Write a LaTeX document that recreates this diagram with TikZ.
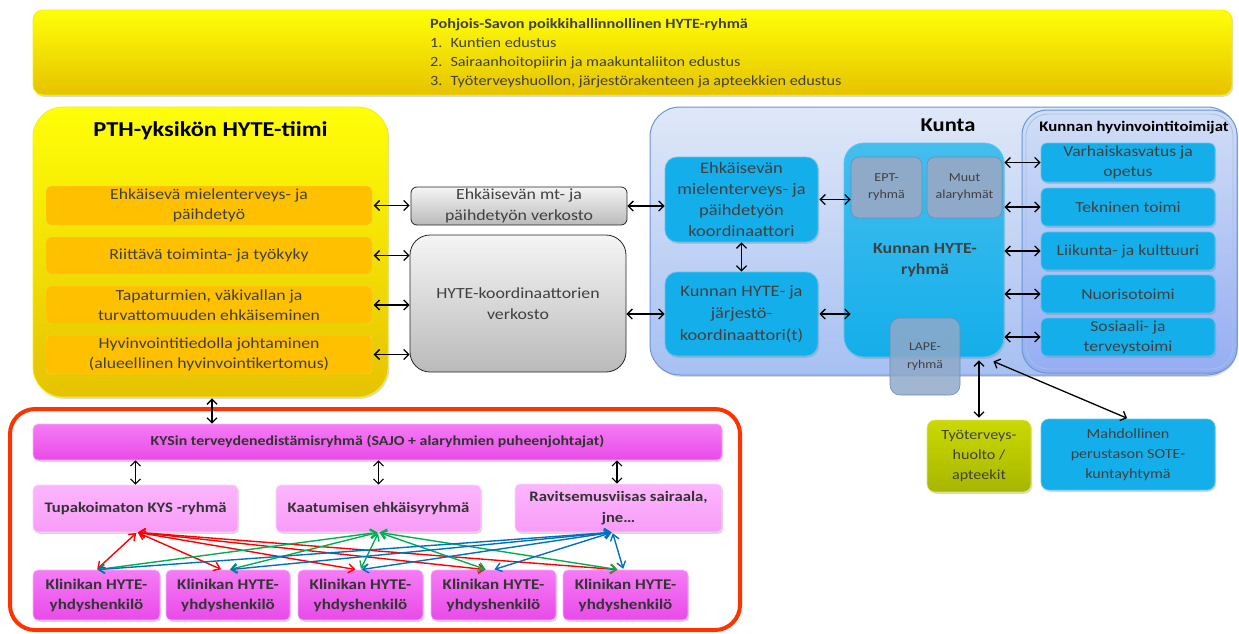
\documentclass[tikz,border=0pt]{standalone}
\usepackage{fontspec}
\setmainfont{Carlito}[FakeStretch=1.15]
\usetikzlibrary{arrows.meta,shadows}
\definecolor{txt}{HTML}{404040}
\definecolor{ytop}{HTML}{FFFF08}
\definecolor{ybot}{HTML}{E6C200}
\definecolor{orangebox}{HTML}{FFC000}
\definecolor{blueb}{HTML}{14AEEA}
\definecolor{bluebd}{HTML}{5CC6F0}
\definecolor{kuntatop}{HTML}{DFE8F8}
\definecolor{kuntabot}{HTML}{A6C0F2}
\definecolor{kuntadraw}{HTML}{6B97D6}
\definecolor{subgray}{HTML}{8FA9C9}
\definecolor{subgrayd}{HTML}{6D8DB6}
\definecolor{olivetop}{HTML}{CAD900}
\definecolor{olivebot}{HTML}{A7B600}
\definecolor{magtop}{HTML}{F57CF5}
\definecolor{magbot}{HTML}{E94AE9}
\definecolor{pinktop}{HTML}{FCB6FC}
\definecolor{pinkbot}{HTML}{F89CF8}
\definecolor{redframe}{HTML}{FF3300}
\definecolor{ared}{HTML}{FF0000}
\definecolor{agreen}{HTML}{00B050}
\definecolor{ablue}{HTML}{0070C0}
\definecolor{ptxt}{HTML}{333333}
\newcommand\fsz[2]{\fontsize{#1}{#2}\selectfont}
\begin{document}
\begin{tikzpicture}[x=1pt,y=-1pt,
  bx/.style={rectangle, align=center, inner sep=2pt, text=txt},
  shd/.style={drop shadow={opacity=0.3, shadow xshift=1.2pt, shadow yshift=-1.8pt}},
  ybox/.style={bx, top color=ytop, bottom color=ybot, draw=ytop!70!ybot, line width=0.8pt, shd},
  obox/.style={bx, fill=orangebox, draw=orangebox!70!white, rounded corners=5pt, font=\fsz{15.4}{20}},
  gbox/.style={bx, top color=black!4, bottom color=black!27, draw=black!85, line width=0.8pt, font=\fsz{15.5}{20.5}},
  bbox/.style={bx, fill=blueb, draw=bluebd, line width=0.8pt, shd},
  sbox/.style={bx, fill=subgray, draw=subgrayd, line width=0.6pt, rounded corners=8pt},
  mbox/.style={bx, text=ptxt, top color=magtop, bottom color=magbot, draw=magtop!60!white, line width=0.6pt, rounded corners=5pt, shd, font=\bfseries\fsz{14.8}{20}},
  pbox/.style={bx, text=ptxt, top color=pinktop, bottom color=pinkbot, draw=pinktop!60!white, line width=0.6pt, rounded corners=5pt, shd, font=\bfseries\fsz{14.5}{21}},
  dar/.style={{Straight Barb[length=5pt,width=10pt]}-{Straight Barb[length=5pt,width=10pt]}, line width=1.3pt, black},
  car/.style={{Straight Barb[length=6pt,width=9pt]}-{Straight Barb[length=6pt,width=9pt]}, line width=1.4pt}
]
\useasboundingbox (0,0) rectangle (1239,633);

% top box
\node[ybox, minimum width=1199pt, minimum height=85pt, rounded corners=10pt] (top) at (632.5,52.5) {};
\node[anchor=north west, align=left, text=txt, inner sep=0pt] (toptxt) at (430,15)
 {\fsz{14.1}{19}\begin{tabular}{@{}l@{\hspace{8pt}}l@{}}\multicolumn{2}{@{}l@{}}{\textbf{Pohjois-Savon poikkihallinnollinen HYTE-ryhmä}}\\
 1. & Kuntien edustus\\ 2. & Sairaanhoitopiirin ja maakuntaliiton edustus\\ 3. & Työterveyshuollon, järjestörakenteen ja apteekkien edustus\end{tabular}};

% PTH
\node[ybox, minimum width=355pt, minimum height=290pt, rounded corners=30pt] (pth) at (210.5,252) {};
\node[inner sep=0pt, font=\bfseries\fsz{21.2}{24}] (ptht) at (210.5,131) {PTH-yksikön HYTE-tiimi};
\node[obox, minimum width=326pt, minimum height=39pt] (o1) at (209,205.5) {Ehkäisevä mielenterveys- ja\\päihdetyö};
\node[obox, minimum width=326pt, minimum height=37pt] (o2) at (209,255.5) {Riittävä toiminta- ja työkyky};
\node[obox, minimum width=326pt, minimum height=38pt] (o3) at (209,305) {Tapaturmien, väkivallan ja\\turvattomuuden ehkäiseminen};
\node[obox, minimum width=326pt, minimum height=39pt] (o4) at (209,354.5) {Hyvinvointitiedolla johtaminen\\(alueellinen hyvinvointikertomus)};

% gray
\node[gbox, minimum width=216pt, minimum height=38pt, rounded corners=6pt] (g1) at (519,206) {Ehkäisevän mt- ja\\päihdetyön verkosto};
\node[gbox, minimum width=216pt, minimum height=137pt, rounded corners=20pt] (g2) at (518,303.5) {HYTE-koordinaattorien\\verkosto};

\foreach \o in {o1,o2,o3,o4}{
  \draw[dar, shorten <=1.5pt] (\o.east) -- (\o.east -| g2.west);
}

% Kunta
\node[bx, top color=kuntatop, bottom color=kuntabot, draw=kuntadraw, line width=1pt, rounded corners=30pt, minimum width=587pt, minimum height=268pt, shd] (kunta) at (943.5,241) {};
\node[inner sep=0pt, font=\bfseries\fsz{19.6}{24}] (kuntat) at (948,125) {Kunta};

\node[bbox, minimum width=153pt, minimum height=85pt, rounded corners=12pt, font=\fsz{16}{20.7}] (b1) at (741.5,199.5) {Ehkäisevän\\mielenterveys- ja\\päihdetyön\\koordinaattori};
\node[bbox, minimum width=153pt, minimum height=84pt, rounded corners=12pt, font=\fsz{16}{22}] (b2) at (741.5,314) {Kunnan HYTE- ja\\järjestö-\\koordinaattori(t)};

\node[bx, top color=blueb!80!white, bottom color=blueb, draw=bluebd, line width=0.8pt, rounded corners=20pt, minimum width=160pt, minimum height=214pt, shd] (hg) at (924,250) {};
\node[inner sep=0pt, align=center, text=txt, font=\bfseries\fsz{15.5}{21}] (hgt) at (925,260) {Kunnan HYTE-\\ryhmä};
\node[sbox, minimum width=71pt, minimum height=61pt, font=\fsz{12.2}{17}] (ept) at (886.5,187.5) {EPT-\\ryhmä};
\node[sbox, minimum width=75pt, minimum height=61pt, font=\fsz{12.2}{17}] (muut) at (964.5,187.5) {Muut\\alaryhmät};
\node[sbox, minimum width=70pt, minimum height=77pt, rounded corners=10pt, fill opacity=0.85, text opacity=1, font=\fsz{12}{17.5}] (lape) at (925,356.5) {LAPE-\\ryhmä};

\draw[dar] (g1.east) -- (g1.east -| b1.west);
\draw[dar] (b2.west -| g2.east) -- (b2.west);
\draw[dar] (b1.south) -- (b2.north);
\draw[dar, shorten <=1pt] (b1.east) -- (b1.east -| ept.west);
\draw[dar, shorten <=1pt] (b2.east) -- (b2.east -| ept.west);

% hyvinvointitoimijat
\node[bx, top color=kuntatop!75!kuntabot, bottom color=kuntabot!90!blue, draw=kuntadraw, line width=1pt, rounded corners=25pt, minimum width=215pt, minimum height=263pt] (hv) at (1129.5,241.5) {};
\node[bx, draw=kuntadraw!60!white, line width=0.8pt, rounded corners=22pt, minimum width=207pt, minimum height=255pt] (hvin) at (1129.5,241.5) {};
\node[inner sep=0pt, font=\bfseries\fsz{14.6}{15}] (hvt) at (1134,128) {Kunnan hyvinvointitoimijat};
\node[bbox, minimum width=174pt, minimum height=39pt, rounded corners=6pt, font=\fsz{15.3}{20}] (r1) at (1128,162.5) {Varhaiskasvatus ja\\opetus};
\node[bbox, minimum width=174pt, minimum height=38pt, rounded corners=6pt, font=\fsz{15.3}{20}] (r2) at (1128,207) {Tekninen toimi};
\node[bbox, minimum width=174pt, minimum height=38pt, rounded corners=6pt, font=\fsz{15.3}{20}] (r3) at (1128,251) {Liikunta- ja kulttuuri};
\node[bbox, minimum width=174pt, minimum height=38pt, rounded corners=6pt, font=\fsz{15.3}{20}] (r4) at (1128,294) {Nuorisotoimi};
\node[bbox, minimum width=174pt, minimum height=38pt, rounded corners=6pt, font=\fsz{15.3}{20}] (r5) at (1128,337) {Sosiaali- ja\\terveystoimi};
\foreach \r in {r1,r2,r3,r4,r5}{
  \draw[dar] (\r.west -| hg.east) -- (\r.west);
}

% bottom right
\node[bx, top color=olivetop, bottom color=olivebot, draw=olivetop!60!white, line width=0.6pt, rounded corners=8pt, minimum width=104pt, minimum height=72pt, shd, font=\fsz{14}{20}] (tt) at (979,456) {Työterveys-\\huolto /\\apteekit};
\node[bbox, minimum width=174pt, minimum height=71pt, rounded corners=8pt, font=\fsz{14}{20}] (sote) at (1128,454.5) {Mahdollinen\\perustason SOTE-\\kuntayhtymä};
\draw[dar, shorten <=2pt, shorten >=3pt] (tt.north) -- (tt.north |- hg.south);
\draw[dar, shorten >=1pt] ([xshift=-11pt,yshift=-4pt]hg.south east) -- (sote.north);

% red frame
\node[draw=redframe, line width=4pt, rounded corners=25pt, minimum width=730pt, minimum height=221pt, inner sep=0pt] (frame) at (375,519.5) {};
\node[mbox, minimum width=689pt, minimum height=36pt, font=\bfseries\fsz{13.8}{20}] (kys) at (377.5,442) {KYSin terveydenedistämisryhmä (SAJO + alaryhmien puheenjohtajat)};
\draw[dar, shorten <=1pt] ([xshift=1.5pt]pth.south) -- ([xshift=1.5pt]pth.south |- kys.north);

\node[pbox, minimum width=205pt, minimum height=47pt] (s1) at (135.5,508.5) {Tupakoimaton KYS -ryhmä};
\node[pbox, minimum width=205pt, minimum height=47pt] (s2) at (378.5,508.5) {Kaatumisen ehkäisyryhmä};
\node[pbox, minimum width=207pt, minimum height=48pt] (s3) at (618.5,508) {Ravitsemusviisas sairaala,\\jne…};
\draw[dar, line width=1.1pt] (s1.north |- kys.south) -- (s1.north);
\draw[dar, line width=1.1pt] (s2.north |- kys.south) -- (s2.north);
\draw[dar, line width=1.1pt] ([xshift=-1.5pt]s3.north |- kys.south) -- ([xshift=-1.5pt]s3.north);

\node[mbox, minimum width=127pt, minimum height=50pt] (k1) at (96.5,595) {Klinikan HYTE-\\yhdyshenkilö};
\node[mbox, minimum width=124pt, minimum height=50pt] (k2) at (228,595) {Klinikan HYTE-\\yhdyshenkilö};
\node[mbox, minimum width=125pt, minimum height=50pt] (k3) at (360.5,595) {Klinikan HYTE-\\yhdyshenkilö};
\node[mbox, minimum width=125pt, minimum height=50pt] (k4) at (493.5,595) {Klinikan HYTE-\\yhdyshenkilö};
\node[mbox, minimum width=125pt, minimum height=50pt] (k5) at (625.5,595) {Klinikan HYTE-\\yhdyshenkilö};

% colored arrows
\foreach \k/\dx in {k1/0,k2/-6,k3/-4,k4/-7,k5/-7}{
  \draw[car, ared, shorten <=1pt, shorten >=1pt] ([xshift=1.5pt]s1.south) -- ([xshift=\dx pt]\k.north);
}
\foreach \k/\dx in {k1/0,k2/1,k3/0,k4/-7,k5/-7}{
  \draw[car, agreen, shorten <=1pt, shorten >=1pt] (s2.south) -- ([xshift=\dx pt]\k.north);
}
\foreach \k/\dx in {k1/0,k2/1,k3/0,k4/0,k5/-2}{
  \draw[car, ablue, shorten <=1pt, shorten >=1pt] ([xshift=-6pt]s3.south) -- ([xshift=\dx pt]\k.north);
}
\end{tikzpicture}
\end{document}
